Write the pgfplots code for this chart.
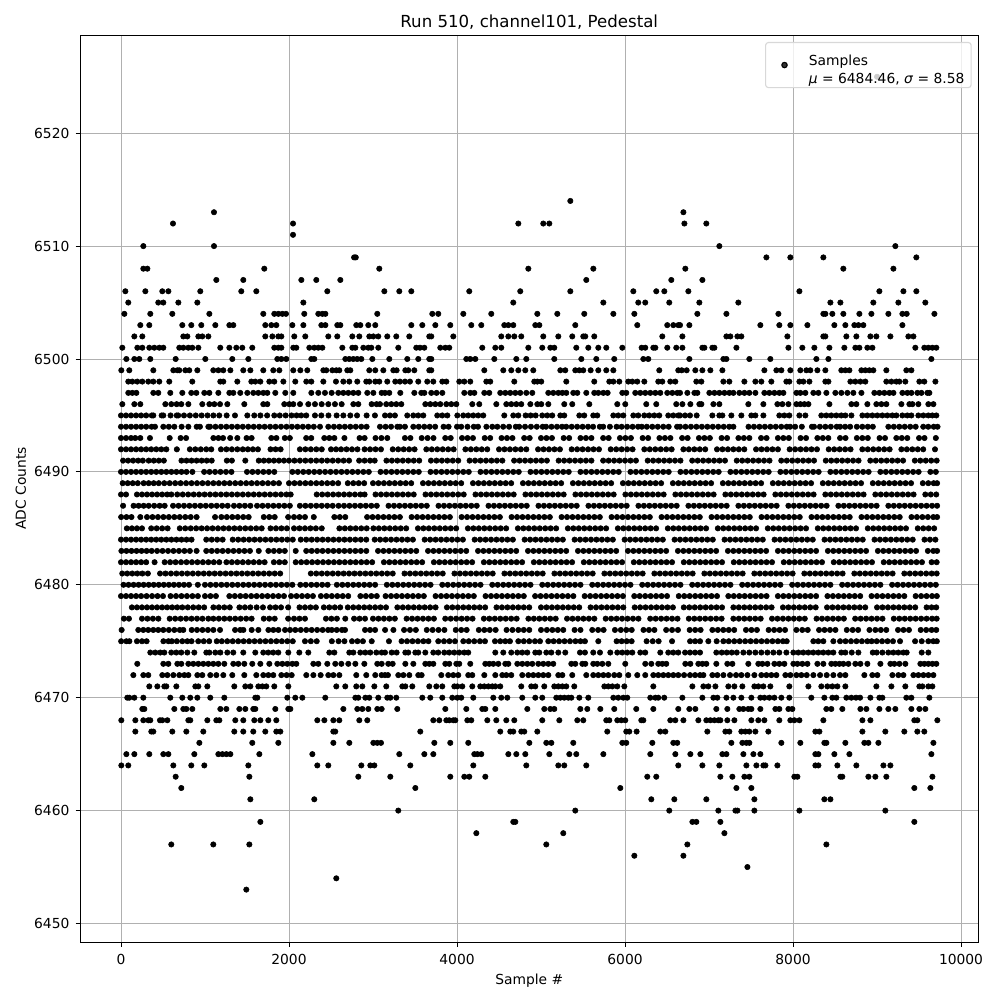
\documentclass[border=0pt]{standalone}
\usepackage{fontspec}
\setmainfont{DejaVu Sans}
\usepackage{pgfplots}
\pgfplotsset{compat=1.18}
\definecolor{gridc}{HTML}{B0B0B0}
\definecolor{legc}{HTML}{D8D8D8}
\begin{document}
\begin{tikzpicture}
\path[use as bounding box] (-0.805in,-0.58in) rectangle (9.195in,9.42in);
\begin{axis}[
 scale only axis,width=8.975in,height=9.07in,
 xmin=-482,xmax=10202,ymin=6448.36,ymax=6528.7,
 xtick={0,2000,4000,6000,8000,10000},
 ytick={6450,6460,6470,6480,6490,6500,6510,6520},
 scaled ticks=false,
 tick align=outside,tick pos=left,
 major tick length=3.5pt,
 tick style={black,line width=0.7pt},
 axis line style={black,line width=0.7pt},
 grid=major,grid style={gridc,line width=0.7pt},
 /pgf/number format/1000 sep={},
 /pgf/number format/assume math mode=true,
 tick label style={font=\fontsize{10}{12}\selectfont},
 label style={font=\fontsize{10}{12}\selectfont},
 xticklabel style={yshift=-1.7pt},
 yticklabel style={xshift=-1pt},
 title={Run 510, channel101, Pedestal},
 title style={font=\fontsize{12}{14}\selectfont,yshift=-5.7pt},
 xlabel={Sample \#},ylabel={ADC Counts},
 xlabel style={yshift=0pt},
 ylabel style={yshift=-1pt},
 legend style={at={(0.9930,0.9923)},anchor=north east,draw=legc,line width=0.8pt,rounded corners=2pt,fill=white,fill opacity=0.8,text opacity=1,font=\fontsize{10}{12.6}\selectfont,inner xsep=1mm,inner ysep=2.1mm},
 legend cell align=left,
 legend image code/.code={\draw[mark repeat=2,mark phase=2,#1,draw=none] plot coordinates {(0cm,0cm)(0.38cm,0cm)(0.93cm,0cm)};},
]
\addplot[draw=none,mark=*,mark size=1.95pt,mark options={draw=none,fill=black}] table[header=false] {
1492 6453
2563 6454
7457 6455
6111 6456
6695 6456
599 6457
1099 6457
1528 6457
5063 6457
6742 6457
8397 6457
4230 6458
5265 6458
7183 6458
1659 6459
4670 6459
4694 6459
6802 6459
6849 6459
7135 6459
9444 6459
3301 6460
5408 6460
6527 6460
7111 6460
7314 6460
7338 6460
7540 6460
8076 6460
9099 6460
1540 6461
2301 6461
6313 6461
6587 6461
6968 6461
7540 6461
8373 6461
8445 6461
718 6462
3504 6462
5944 6462
7326 6462
7504 6462
9444 6462
9635 6462
651 6463
1528 6463
2825 6463
3206 6463
3920 6463
4087 6463
4146 6463
4337 6463
6265 6463
6372 6463
7135 6463
7278 6463
7421 6463
7480 6463
8016 6463
8052 6463
8564 6463
8587 6463
8897 6463
8980 6463
9111 6463
9659 6463
4 6464
87 6464
623 6464
837 6464
992 6464
1516 6464
2337 6464
2468 6464
2861 6464
2968 6464
3016 6464
3444 6464
4194 6464
4825 6464
5206 6464
5277 6464
5539 6464
6634 6464
6921 6464
7123 6464
7445 6464
7564 6464
7647 6464
7671 6464
7814 6464
8266 6464
8302 6464
8528 6464
8754 6464
9076 6464
9159 6464
64 6465
159 6465
337 6465
504 6465
564 6465
873 6465
1159 6465
1207 6465
1254 6465
1302 6465
1647 6465
2278 6465
3313 6465
3611 6465
3718 6465
4206 6465
4242 6465
4289 6465
4611 6465
4706 6465
4813 6465
5099 6465
5337 6465
5420 6465
5742 6465
6301 6465
6599 6465
6778 6465
6897 6465
7159 6465
7207 6465
7409 6465
7528 6465
7611 6465
8266 6465
8302 6465
8492 6465
8671 6465
9647 6465
933 6466
1563 6466
1873 6466
2528 6466
2718 6466
3004 6466
3051 6466
3095 6466
3730 6466
3920 6466
4134 6466
4861 6466
5063 6466
5123 6466
5384 6466
5968 6466
6015 6466
6325 6466
6575 6466
6622 6466
7266 6466
7397 6466
7445 6466
7480 6466
7861 6466
8087 6466
8373 6466
8397 6466
8623 6466
8849 6466
8897 6466
9016 6466
9671 6466
171 6467
361 6467
385 6467
611 6467
778 6467
980 6467
1349 6467
1456 6467
1575 6467
1718 6467
1849 6467
1897 6467
2528 6467
2551 6467
3563 6467
4515 6467
4634 6467
4670 6467
4765 6467
4801 6467
4956 6467
5789 6467
6015 6467
6051 6467
6138 6467
6420 6467
6480 6467
6980 6467
7195 6467
7242 6467
7385 6467
7433 6467
7480 6467
7552 6467
7706 6467
8266 6467
8314 6467
8826 6467
9099 6467
9325 6467
9480 6467
9563 6467
4 6468
171 6468
266 6468
325 6468
349 6468
464 6468
492 6468
552 6468
802 6468
825 6468
1028 6468
1135 6468
1171 6468
1361 6468
1456 6468
1587 6468
1659 6468
1754 6468
1849 6468
2337 6468
2421 6468
2528 6468
2599 6468
2837 6468
2932 6468
3718 6468
3789 6468
3873 6468
3908 6468
3956 6468
3980 6468
4123 6468
4170 6468
4361 6468
4468 6468
4587 6468
4682 6468
5015 6468
5218 6468
5432 6468
5503 6468
5777 6468
5813 6468
5908 6468
5956 6468
6003 6468
6194 6468
6218 6468
6539 6468
6599 6468
6695 6468
6873 6468
6968 6468
7016 6468
7064 6468
7111 6468
7135 6468
7218 6468
7302 6468
7504 6468
7587 6468
7659 6468
7837 6468
7968 6468
8016 6468
8076 6468
8361 6468
8826 6468
8921 6468
9444 6468
9480 6468
9718 6468
254 6469
278 6469
635 6469
742 6469
778 6469
849 6469
1183 6469
1254 6469
1409 6469
1480 6469
1575 6469
1599 6469
1837 6469
1992 6469
2016 6469
2647 6469
2813 6469
2873 6469
2944 6469
3051 6469
3103 6469
3289 6469
3861 6469
4111 6469
4301 6469
4337 6469
4456 6469
4837 6469
5039 6469
5111 6469
5158 6469
5468 6469
5551 6469
5706 6469
5872 6469
6134 6469
6337 6469
6634 6469
6766 6469
6837 6469
7087 6469
7218 6469
7361 6469
7409 6469
7468 6469
7504 6469
7611 6469
7790 6469
7837 6469
7945 6469
7992 6469
8397 6469
8456 6469
8587 6469
8802 6469
8873 6469
9028 6469
9135 6469
9218 6469
9409 6469
9504 6469
9575 6469
75 6470
99 6470
159 6470
266 6470
587 6470
730 6470
825 6470
909 6470
1063 6470
1230 6470
1599 6470
1623 6470
1980 6470
2075 6470
2159 6470
2432 6470
2790 6470
2825 6470
2909 6470
2956 6470
3063 6470
3170 6470
3206 6470
3277 6470
3587 6470
3682 6470
3825 6470
3944 6470
4004 6470
4051 6470
4194 6470
4432 6470
4527 6470
4599 6470
4777 6470
4932 6470
5015 6470
5182 6470
5230 6470
5277 6470
5325 6470
5361 6470
5456 6470
5563 6470
5861 6470
5920 6470
5980 6470
6027 6470
6301 6470
6361 6470
6396 6470
6467 6470
6683 6470
6921 6470
7052 6470
7099 6470
7207 6470
7290 6470
7385 6470
7504 6470
7611 6470
7659 6470
7718 6470
7778 6470
7861 6470
7956 6470
8218 6470
8373 6470
8468 6470
8516 6470
8635 6470
8695 6470
8750 6470
8798 6470
8921 6470
9028 6470
9064 6470
9349 6470
9409 6470
9623 6470
337 6471
433 6471
516 6471
540 6471
659 6471
885 6471
921 6471
1028 6471
1349 6471
1480 6471
1540 6471
1635 6471
1683 6471
1730 6471
1825 6471
1992 6471
2563 6471
2670 6471
2801 6471
2873 6471
3016 6471
3158 6471
3349 6471
3385 6471
3468 6471
3670 6471
3754 6471
3825 6471
3968 6471
4004 6471
4063 6471
4182 6471
4277 6471
4325 6471
4373 6471
4420 6471
4456 6471
4515 6471
4765 6471
4884 6471
4932 6471
5039 6471
5158 6471
5206 6471
5254 6471
5301 6471
5396 6471
5754 6471
5801 6471
5849 6471
5908 6471
5992 6471
6337 6471
6802 6471
6933 6471
6992 6471
7076 6471
7230 6471
7302 6471
7397 6471
7540 6471
7587 6471
7647 6471
7730 6471
7956 6471
8183 6471
8337 6471
8409 6471
8468 6471
8528 6471
8623 6471
8992 6471
9171 6471
9337 6471
9504 6471
9540 6471
9611 6471
9659 6471
147 6472
266 6472
325 6472
492 6472
552 6472
623 6472
694 6472
754 6472
802 6472
909 6472
968 6472
1063 6472
1135 6472
1218 6472
1325 6472
1468 6472
1611 6472
1694 6472
1754 6472
1813 6472
1909 6472
1972 6472
2032 6472
2206 6472
2290 6472
2377 6472
2468 6472
2528 6472
2599 6472
2801 6472
2920 6472
3027 6472
3103 6472
3143 6472
3178 6472
3301 6472
3361 6472
3432 6472
3539 6472
3579 6472
3813 6472
3896 6472
3956 6472
4015 6472
4134 6472
4182 6472
4325 6472
4456 6472
4539 6472
4587 6472
4646 6472
4777 6472
4849 6472
4908 6472
4968 6472
5027 6472
5087 6472
5206 6472
5254 6472
5372 6472
5539 6472
5622 6472
5682 6472
5742 6472
5801 6472
5872 6472
5932 6472
6039 6472
6146 6472
6241 6472
6337 6472
6396 6472
6456 6472
6515 6472
6575 6472
6634 6472
6703 6472
6774 6472
6834 6472
6893 6472
6933 6472
7040 6472
7099 6472
7171 6472
7250 6472
7322 6472
7385 6472
7457 6472
7540 6472
7623 6472
7683 6472
7742 6472
7802 6472
7909 6472
7968 6472
8040 6472
8099 6472
8163 6472
8242 6472
8322 6472
8401 6472
8480 6472
8560 6472
8623 6472
8849 6472
8944 6472
9004 6472
9183 6472
9254 6472
9314 6472
9433 6472
9492 6472
9552 6472
9611 6472
9671 6472
194 6473
504 6473
564 6473
671 6473
718 6473
802 6473
861 6473
921 6473
980 6473
1040 6473
1099 6473
1159 6473
1230 6473
1337 6473
1397 6473
1468 6473
1563 6473
1659 6473
1766 6473
1861 6473
1921 6473
1980 6473
2040 6473
2087 6473
2290 6473
2349 6473
2456 6473
2551 6473
2623 6473
2706 6473
2790 6473
2897 6473
3051 6473
3103 6473
3182 6473
3234 6473
3385 6473
3480 6473
3623 6473
3670 6473
3718 6473
3861 6473
3908 6473
3992 6473
4027 6473
4158 6473
4337 6473
4384 6473
4432 6473
4492 6473
4575 6473
4611 6473
4718 6473
4777 6473
4837 6473
4896 6473
4968 6473
5027 6473
5087 6473
5146 6473
5361 6473
5408 6473
5492 6473
5527 6473
5622 6473
5670 6473
5730 6473
5801 6473
6003 6473
6241 6473
6313 6473
6396 6473
6444 6473
6491 6473
6718 6473
6778 6473
6873 6473
6921 6473
6968 6473
7087 6473
7218 6473
7278 6473
7468 6473
7587 6473
7635 6473
7695 6473
7778 6473
7837 6473
7897 6473
8004 6473
8052 6473
8111 6473
8171 6473
8290 6473
8361 6473
8456 6473
8504 6473
8552 6473
8599 6473
8659 6473
8742 6473
8802 6473
8885 6473
9040 6473
9159 6473
9206 6473
9266 6473
9337 6473
9516 6473
9563 6473
9611 6473
9659 6473
9706 6473
349 6474
409 6474
468 6474
516 6474
599 6474
659 6474
718 6474
790 6474
873 6474
1016 6474
1052 6474
1123 6474
1183 6474
1266 6474
1337 6474
1456 6474
1599 6474
1694 6474
1754 6474
1813 6474
1873 6474
1992 6474
2123 6474
2230 6474
2480 6474
2540 6474
2718 6474
2766 6474
2849 6474
2909 6474
2968 6474
3040 6474
3103 6474
3143 6474
3222 6474
3281 6474
3385 6474
3420 6474
3504 6474
3539 6474
3623 6474
3718 6474
3777 6474
3849 6474
3908 6474
3968 6474
4027 6474
4087 6474
4134 6474
4456 6474
4551 6474
4646 6474
4718 6474
4777 6474
4837 6474
4932 6474
4980 6474
5063 6474
5123 6474
5206 6474
5289 6474
5464 6474
5523 6474
5622 6474
5702 6474
5825 6474
5908 6474
5968 6474
6027 6474
6087 6474
6182 6474
6241 6474
6420 6474
6515 6474
6575 6474
6634 6474
6715 6474
6774 6474
6834 6474
6893 6474
7087 6474
7151 6474
7210 6474
7270 6474
7330 6474
7409 6474
7480 6474
7552 6474
7623 6474
7695 6474
7766 6474
7837 6474
7921 6474
8004 6474
8064 6474
8123 6474
8183 6474
8242 6474
8302 6474
8361 6474
8421 6474
8480 6474
8575 6474
8623 6474
8699 6474
8778 6474
8949 6474
8996 6474
9064 6474
9135 6474
9195 6474
9254 6474
9314 6474
9353 6474
9532 6474
9611 6474
2 6475
64 6475
100 6475
190 6475
250 6475
305 6475
505 6475
565 6475
605 6475
665 6475
730 6475
790 6475
840 6475
920 6475
985 6475
1050 6475
1140 6475
1200 6475
1265 6475
1330 6475
1395 6475
1460 6475
1525 6475
1590 6475
1655 6475
1720 6475
1785 6475
1850 6475
1915 6475
1980 6475
2045 6475
2190 6475
2260 6475
2330 6475
2510 6475
2590 6475
2660 6475
2750 6475
2815 6475
2880 6475
2985 6475
3190 6475
3340 6475
3405 6475
3470 6475
3535 6475
3600 6475
3660 6475
3777 6475
3845 6475
3910 6475
3976 6475
4075 6475
4140 6475
4205 6475
4273 6475
4333 6475
4452 6475
4515 6475
4575 6475
4630 6475
4730 6475
4795 6475
4860 6475
4928 6475
4988 6475
5087 6475
5150 6475
5215 6475
5280 6475
5345 6475
5410 6475
5470 6475
5523 6475
5682 6475
5900 6475
5960 6475
6020 6475
6079 6475
6257 6475
6330 6475
6400 6475
6560 6475
6775 6475
6835 6475
6893 6475
6992 6475
7091 6475
7171 6475
7235 6475
7300 6475
7365 6475
7430 6475
7495 6475
7560 6475
7625 6475
7690 6475
7755 6475
7820 6475
7880 6475
7925 6475
8242 6475
8300 6475
8361 6475
8480 6475
8560 6475
8625 6475
8690 6475
8755 6475
8820 6475
8885 6475
8936 6475
8996 6475
9060 6475
9125 6475
9190 6475
9274 6475
9453 6475
9532 6475
9611 6475
9670 6475
9712 6475
8 6476
206 6476
266 6476
325 6476
385 6476
444 6476
504 6476
570 6476
635 6476
700 6476
742 6476
842 6476
905 6476
970 6476
1035 6476
1100 6476
1179 6476
1358 6476
1420 6476
1457 6476
1556 6476
1635 6476
1755 6476
1814 6476
1874 6476
1953 6476
2013 6476
2075 6476
2140 6476
2205 6476
2270 6476
2335 6476
2400 6476
2465 6476
2509 6476
2568 6476
2630 6476
2667 6476
2905 6476
2965 6476
3025 6476
3144 6476
3243 6476
3370 6476
3440 6476
3510 6476
3640 6476
3710 6476
3780 6476
3850 6476
3985 6476
4050 6476
4115 6476
4260 6476
4325 6476
4390 6476
4460 6476
4590 6476
4660 6476
4730 6476
4795 6476
4860 6476
5000 6476
5070 6476
5135 6476
5200 6476
5265 6476
5400 6476
5470 6476
5610 6476
5680 6476
5745 6476
5880 6476
5950 6476
6015 6476
6080 6476
6220 6476
6285 6476
6350 6476
6490 6476
6560 6476
6630 6476
6770 6476
6835 6476
6900 6476
7040 6476
7105 6476
7170 6476
7235 6476
7300 6476
7440 6476
7505 6476
7570 6476
7710 6476
7775 6476
7840 6476
7905 6476
8040 6476
8110 6476
8175 6476
8310 6476
8375 6476
8440 6476
8505 6476
8640 6476
8710 6476
8775 6476
8910 6476
8980 6476
9045 6476
9110 6476
9250 6476
9315 6476
9380 6476
9520 6476
9585 6476
9650 6476
9705 6476
35 6477
95 6477
250 6477
315 6477
380 6477
445 6477
580 6477
645 6477
710 6477
775 6477
840 6477
905 6477
970 6477
1040 6477
1100 6477
1165 6477
1230 6477
1295 6477
1360 6477
1425 6477
1490 6477
1555 6477
1700 6477
1765 6477
1830 6477
1990 6477
2060 6477
2125 6477
2190 6477
2440 6477
2505 6477
2570 6477
2670 6477
2775 6477
2840 6477
2905 6477
3000 6477
3065 6477
3130 6477
3195 6477
3260 6477
3400 6477
3465 6477
3530 6477
3595 6477
3660 6477
3725 6477
3860 6477
3925 6477
3990 6477
4055 6477
4120 6477
4185 6477
4320 6477
4385 6477
4450 6477
4515 6477
4580 6477
4645 6477
4710 6477
4850 6477
4915 6477
4980 6477
5045 6477
5110 6477
5175 6477
5310 6477
5375 6477
5440 6477
5505 6477
5570 6477
5635 6477
5770 6477
5835 6477
5900 6477
5965 6477
6030 6477
6095 6477
6160 6477
6300 6477
6365 6477
6430 6477
6495 6477
6560 6477
6625 6477
6760 6477
6825 6477
6890 6477
6955 6477
7020 6477
7085 6477
7150 6477
7290 6477
7355 6477
7420 6477
7485 6477
7550 6477
7615 6477
7750 6477
7815 6477
7880 6477
7945 6477
8010 6477
8075 6477
8140 6477
8280 6477
8345 6477
8410 6477
8475 6477
8540 6477
8605 6477
8740 6477
8805 6477
8870 6477
8935 6477
9000 6477
9065 6477
9200 6477
9265 6477
9330 6477
9395 6477
9460 6477
9525 6477
9590 6477
9655 6477
9710 6477
130 6478
190 6478
250 6478
310 6478
370 6478
430 6478
490 6478
550 6478
610 6478
670 6478
730 6478
795 6478
860 6478
925 6478
990 6478
1100 6478
1165 6478
1230 6478
1295 6478
1410 6478
1475 6478
1540 6478
1615 6478
1690 6478
1775 6478
1840 6478
1905 6478
1990 6478
2125 6478
2190 6478
2255 6478
2320 6478
2415 6478
2480 6478
2545 6478
2610 6478
2700 6478
2765 6478
2830 6478
2895 6478
2960 6478
3025 6478
3090 6478
3155 6478
3290 6478
3355 6478
3420 6478
3485 6478
3550 6478
3615 6478
3680 6478
3745 6478
3880 6478
3945 6478
4010 6478
4075 6478
4140 6478
4205 6478
4270 6478
4335 6478
4470 6478
4535 6478
4600 6478
4665 6478
4730 6478
4795 6478
4860 6478
5000 6478
5065 6478
5130 6478
5195 6478
5260 6478
5325 6478
5390 6478
5455 6478
5590 6478
5655 6478
5720 6478
5785 6478
5850 6478
5915 6478
5980 6478
6115 6478
6180 6478
6245 6478
6310 6478
6375 6478
6440 6478
6505 6478
6570 6478
6700 6478
6765 6478
6830 6478
6895 6478
6960 6478
7025 6478
7090 6478
7155 6478
7290 6478
7355 6478
7420 6478
7485 6478
7550 6478
7615 6478
7680 6478
7745 6478
7880 6478
7945 6478
8010 6478
8075 6478
8140 6478
8205 6478
8270 6478
8405 6478
8470 6478
8535 6478
8600 6478
8665 6478
8730 6478
8795 6478
8860 6478
9000 6478
9065 6478
9130 6478
9195 6478
9260 6478
9325 6478
9390 6478
9455 6478
9590 6478
9650 6478
9705 6478
0 6479
60 6479
120 6479
180 6479
240 6479
305 6479
370 6479
435 6479
500 6479
590 6479
655 6479
720 6479
785 6479
850 6479
915 6479
1000 6479
1065 6479
1130 6479
1290 6479
1355 6479
1420 6479
1485 6479
1550 6479
1615 6479
1680 6479
1745 6479
1810 6479
1875 6479
1940 6479
2025 6479
2090 6479
2155 6479
2220 6479
2285 6479
2380 6479
2445 6479
2510 6479
2575 6479
2640 6479
2705 6479
2850 6479
2915 6479
2980 6479
3045 6479
3150 6479
3215 6479
3280 6479
3345 6479
3410 6479
3475 6479
3540 6479
3605 6479
3745 6479
3810 6479
3875 6479
3940 6479
4005 6479
4070 6479
4135 6479
4200 6479
4340 6479
4405 6479
4470 6479
4535 6479
4600 6479
4665 6479
4730 6479
4795 6479
4930 6479
4995 6479
5060 6479
5125 6479
5190 6479
5255 6479
5320 6479
5385 6479
5520 6479
5585 6479
5650 6479
5715 6479
5780 6479
5845 6479
5910 6479
5975 6479
6110 6479
6175 6479
6240 6479
6305 6479
6370 6479
6435 6479
6500 6479
6640 6479
6705 6479
6770 6479
6835 6479
6900 6479
6965 6479
7030 6479
7095 6479
7230 6479
7295 6479
7360 6479
7425 6479
7490 6479
7555 6479
7620 6479
7685 6479
7820 6479
7885 6479
7950 6479
8015 6479
8080 6479
8145 6479
8210 6479
8275 6479
8410 6479
8475 6479
8540 6479
8605 6479
8670 6479
8735 6479
8800 6479
8935 6479
9000 6479
9065 6479
9130 6479
9195 6479
9260 6479
9325 6479
9460 6479
9525 6479
9590 6479
9655 6479
9712 6479
30 6480
90 6480
150 6480
210 6480
270 6480
330 6480
390 6480
450 6480
510 6480
570 6480
630 6480
690 6480
750 6480
810 6480
915 6480
1000 6480
1065 6480
1130 6480
1195 6480
1260 6480
1325 6480
1390 6480
1455 6480
1520 6480
1585 6480
1650 6480
1715 6480
1780 6480
1845 6480
1910 6480
1975 6480
2040 6480
2135 6480
2200 6480
2265 6480
2330 6480
2395 6480
2460 6480
2570 6480
2635 6480
2700 6480
2765 6480
2830 6480
2895 6480
2960 6480
3025 6480
3165 6480
3230 6480
3295 6480
3360 6480
3425 6480
3490 6480
3555 6480
3620 6480
3685 6480
3825 6480
3890 6480
3955 6480
4020 6480
4085 6480
4150 6480
4215 6480
4280 6480
4420 6480
4485 6480
4550 6480
4615 6480
4680 6480
4745 6480
4810 6480
4875 6480
5015 6480
5080 6480
5145 6480
5210 6480
5275 6480
5340 6480
5405 6480
5470 6480
5610 6480
5675 6480
5740 6480
5805 6480
5870 6480
5935 6480
6000 6480
6065 6480
6205 6480
6270 6480
6335 6480
6400 6480
6465 6480
6530 6480
6595 6480
6660 6480
6800 6480
6865 6480
6930 6480
6995 6480
7060 6480
7125 6480
7190 6480
7255 6480
7395 6480
7460 6480
7525 6480
7590 6480
7655 6480
7720 6480
7785 6480
7850 6480
7990 6480
8055 6480
8120 6480
8185 6480
8250 6480
8315 6480
8380 6480
8445 6480
8585 6480
8650 6480
8715 6480
8780 6480
8845 6480
8910 6480
8975 6480
9040 6480
9180 6480
9245 6480
9310 6480
9375 6480
9440 6480
9505 6480
9570 6480
9635 6480
9700 6480
15 6481
75 6481
135 6481
195 6481
255 6481
320 6481
465 6481
530 6481
595 6481
660 6481
725 6481
790 6481
855 6481
920 6481
985 6481
1050 6481
1115 6481
1180 6481
1245 6481
1310 6481
1375 6481
1440 6481
1505 6481
1570 6481
1635 6481
1700 6481
1765 6481
1830 6481
1895 6481
2260 6481
2325 6481
2390 6481
2455 6481
2520 6481
2585 6481
2650 6481
2715 6481
2780 6481
2845 6481
2910 6481
2975 6481
3040 6481
3105 6481
3170 6481
3235 6481
3375 6481
3440 6481
3505 6481
3570 6481
3635 6481
3700 6481
3765 6481
3830 6481
3970 6481
4035 6481
4100 6481
4165 6481
4230 6481
4295 6481
4360 6481
4425 6481
4565 6481
4630 6481
4695 6481
4760 6481
4825 6481
4890 6481
4955 6481
5020 6481
5160 6481
5225 6481
5290 6481
5355 6481
5420 6481
5485 6481
5550 6481
5615 6481
5755 6481
5820 6481
5885 6481
5950 6481
6015 6481
6080 6481
6145 6481
6210 6481
6350 6481
6415 6481
6480 6481
6545 6481
6610 6481
6675 6481
6740 6481
6805 6481
6945 6481
7010 6481
7075 6481
7140 6481
7205 6481
7270 6481
7335 6481
7400 6481
7540 6481
7605 6481
7670 6481
7735 6481
7800 6481
7865 6481
7930 6481
7995 6481
8135 6481
8200 6481
8265 6481
8330 6481
8395 6481
8460 6481
8525 6481
8590 6481
8730 6481
8795 6481
8860 6481
8925 6481
8990 6481
9055 6481
9120 6481
9185 6481
9325 6481
9390 6481
9455 6481
9520 6481
9585 6481
9650 6481
9710 6481
0 6482
60 6482
120 6482
180 6482
240 6482
300 6482
400 6482
520 6482
585 6482
650 6482
715 6482
780 6482
845 6482
910 6482
975 6482
1040 6482
1105 6482
1170 6482
1255 6482
1320 6482
1385 6482
1450 6482
1515 6482
1580 6482
1645 6482
1710 6482
1820 6482
1885 6482
1950 6482
2080 6482
2145 6482
2210 6482
2275 6482
2340 6482
2405 6482
2470 6482
2535 6482
2600 6482
2665 6482
2730 6482
2795 6482
2860 6482
2925 6482
2990 6482
3130 6482
3195 6482
3260 6482
3325 6482
3390 6482
3455 6482
3520 6482
3585 6482
3725 6482
3790 6482
3855 6482
3920 6482
3985 6482
4050 6482
4115 6482
4180 6482
4320 6482
4385 6482
4450 6482
4515 6482
4580 6482
4645 6482
4710 6482
4775 6482
4915 6482
4980 6482
5045 6482
5110 6482
5175 6482
5240 6482
5305 6482
5370 6482
5510 6482
5575 6482
5640 6482
5705 6482
5770 6482
5835 6482
5900 6482
5965 6482
6105 6482
6170 6482
6235 6482
6300 6482
6365 6482
6430 6482
6495 6482
6560 6482
6700 6482
6765 6482
6830 6482
6895 6482
6960 6482
7025 6482
7090 6482
7155 6482
7295 6482
7360 6482
7425 6482
7490 6482
7555 6482
7620 6482
7685 6482
7750 6482
7890 6482
7955 6482
8020 6482
8085 6482
8150 6482
8215 6482
8280 6482
8345 6482
8485 6482
8550 6482
8615 6482
8680 6482
8745 6482
8810 6482
8875 6482
8940 6482
9080 6482
9145 6482
9210 6482
9275 6482
9340 6482
9405 6482
9470 6482
9535 6482
9650 6482
9710 6482
5 6483
65 6483
125 6483
185 6483
245 6483
305 6483
365 6483
430 6483
495 6483
560 6483
625 6483
690 6483
755 6483
820 6483
900 6483
1015 6483
1080 6483
1145 6483
1210 6483
1275 6483
1340 6483
1405 6483
1470 6483
1535 6483
1640 6483
1755 6483
1820 6483
1885 6483
1950 6483
2080 6483
2205 6483
2270 6483
2335 6483
2400 6483
2465 6483
2530 6483
2595 6483
2660 6483
2725 6483
2790 6483
2855 6483
2920 6483
3060 6483
3125 6483
3190 6483
3255 6483
3320 6483
3385 6483
3450 6483
3515 6483
3655 6483
3720 6483
3785 6483
3850 6483
3915 6483
3980 6483
4045 6483
4110 6483
4250 6483
4315 6483
4380 6483
4445 6483
4510 6483
4575 6483
4640 6483
4705 6483
4845 6483
4910 6483
4975 6483
5040 6483
5105 6483
5170 6483
5235 6483
5300 6483
5440 6483
5505 6483
5570 6483
5635 6483
5700 6483
5765 6483
5830 6483
5895 6483
6035 6483
6100 6483
6165 6483
6230 6483
6295 6483
6360 6483
6425 6483
6490 6483
6630 6483
6695 6483
6760 6483
6825 6483
6890 6483
6955 6483
7020 6483
7085 6483
7225 6483
7290 6483
7355 6483
7420 6483
7485 6483
7550 6483
7615 6483
7680 6483
7820 6483
7885 6483
7950 6483
8015 6483
8080 6483
8145 6483
8210 6483
8275 6483
8415 6483
8480 6483
8545 6483
8610 6483
8675 6483
8740 6483
8805 6483
8870 6483
9010 6483
9075 6483
9140 6483
9205 6483
9270 6483
9335 6483
9400 6483
9465 6483
9605 6483
9670 6483
9715 6483
0 6484
60 6484
120 6484
180 6484
240 6484
300 6484
360 6484
420 6484
480 6484
540 6484
600 6484
660 6484
720 6484
780 6484
840 6484
1015 6484
1080 6484
1145 6484
1210 6484
1330 6484
1395 6484
1460 6484
1525 6484
1590 6484
1655 6484
1720 6484
1785 6484
1850 6484
1915 6484
1980 6484
2045 6484
2140 6484
2205 6484
2270 6484
2335 6484
2400 6484
2465 6484
2530 6484
2595 6484
2660 6484
2725 6484
2790 6484
2855 6484
2920 6484
3020 6484
3085 6484
3150 6484
3215 6484
3280 6484
3345 6484
3410 6484
3475 6484
3615 6484
3680 6484
3745 6484
3810 6484
3875 6484
3940 6484
4005 6484
4070 6484
4210 6484
4275 6484
4340 6484
4405 6484
4470 6484
4535 6484
4600 6484
4665 6484
4805 6484
4870 6484
4935 6484
5000 6484
5065 6484
5130 6484
5195 6484
5260 6484
5400 6484
5465 6484
5530 6484
5595 6484
5660 6484
5725 6484
5790 6484
5855 6484
5995 6484
6060 6484
6125 6484
6190 6484
6255 6484
6320 6484
6385 6484
6450 6484
6590 6484
6655 6484
6720 6484
6785 6484
6850 6484
6915 6484
6980 6484
7045 6484
7185 6484
7250 6484
7315 6484
7380 6484
7445 6484
7510 6484
7575 6484
7640 6484
7780 6484
7845 6484
7910 6484
7975 6484
8040 6484
8105 6484
8170 6484
8235 6484
8375 6484
8440 6484
8505 6484
8570 6484
8635 6484
8700 6484
8765 6484
8830 6484
8970 6484
9035 6484
9100 6484
9165 6484
9230 6484
9295 6484
9360 6484
9425 6484
9565 6484
9630 6484
9695 6484
70 6485
130 6485
190 6485
250 6485
360 6485
425 6485
490 6485
555 6485
700 6485
765 6485
830 6485
895 6485
960 6485
1025 6485
1090 6485
1155 6485
1220 6485
1285 6485
1350 6485
1415 6485
1480 6485
1545 6485
1610 6485
1675 6485
1780 6485
1845 6485
1910 6485
1975 6485
2060 6485
2125 6485
2190 6485
2255 6485
2320 6485
2390 6485
2600 6485
2665 6485
2730 6485
2795 6485
2860 6485
2925 6485
3005 6485
3070 6485
3135 6485
3200 6485
3265 6485
3330 6485
3395 6485
3535 6485
3600 6485
3665 6485
3730 6485
3795 6485
3860 6485
3925 6485
3990 6485
4130 6485
4195 6485
4260 6485
4325 6485
4390 6485
4455 6485
4520 6485
4585 6485
4725 6485
4790 6485
4855 6485
4920 6485
4985 6485
5050 6485
5115 6485
5180 6485
5320 6485
5385 6485
5450 6485
5515 6485
5580 6485
5645 6485
5710 6485
5775 6485
5915 6485
5980 6485
6045 6485
6110 6485
6175 6485
6240 6485
6305 6485
6370 6485
6510 6485
6575 6485
6640 6485
6705 6485
6770 6485
6835 6485
6900 6485
6965 6485
7105 6485
7170 6485
7235 6485
7300 6485
7365 6485
7430 6485
7495 6485
7560 6485
7700 6485
7765 6485
7830 6485
7895 6485
7960 6485
8025 6485
8090 6485
8155 6485
8295 6485
8360 6485
8425 6485
8490 6485
8555 6485
8620 6485
8685 6485
8750 6485
8890 6485
8955 6485
9020 6485
9085 6485
9150 6485
9215 6485
9280 6485
9345 6485
9485 6485
9550 6485
9615 6485
9680 6485
2 6486
65 6486
125 6486
230 6486
310 6486
375 6486
440 6486
505 6486
570 6486
635 6486
700 6486
765 6486
830 6486
900 6486
1120 6486
1195 6486
1260 6486
1325 6486
1390 6486
1455 6486
1520 6486
1700 6486
1765 6486
1830 6486
1990 6486
2060 6486
2125 6486
2190 6486
2295 6486
2540 6486
2605 6486
2670 6486
2930 6486
2995 6486
3060 6486
3125 6486
3190 6486
3255 6486
3320 6486
3460 6486
3525 6486
3590 6486
3655 6486
3720 6486
3785 6486
3850 6486
3915 6486
4055 6486
4120 6486
4185 6486
4250 6486
4315 6486
4380 6486
4445 6486
4510 6486
4650 6486
4715 6486
4780 6486
4845 6486
4910 6486
4975 6486
5040 6486
5105 6486
5245 6486
5310 6486
5375 6486
5440 6486
5505 6486
5570 6486
5635 6486
5700 6486
5840 6486
5905 6486
5970 6486
6035 6486
6100 6486
6165 6486
6230 6486
6295 6486
6435 6486
6500 6486
6565 6486
6630 6486
6695 6486
6760 6486
6825 6486
6890 6486
7030 6486
7095 6486
7160 6486
7225 6486
7290 6486
7355 6486
7420 6486
7485 6486
7625 6486
7690 6486
7755 6486
7820 6486
7885 6486
7950 6486
8015 6486
8080 6486
8220 6486
8285 6486
8350 6486
8415 6486
8480 6486
8545 6486
8610 6486
8675 6486
8815 6486
8880 6486
8945 6486
9010 6486
9075 6486
9140 6486
9205 6486
9270 6486
9410 6486
9475 6486
9540 6486
9605 6486
9670 6486
9715 6486
25 6487
150 6487
210 6487
270 6487
330 6487
395 6487
460 6487
520 6487
620 6487
685 6487
750 6487
815 6487
880 6487
945 6487
1010 6487
1075 6487
1140 6487
1205 6487
1270 6487
1345 6487
1410 6487
1475 6487
1540 6487
1620 6487
1685 6487
1750 6487
1815 6487
1880 6487
1945 6487
2010 6487
2130 6487
2195 6487
2260 6487
2325 6487
2390 6487
2455 6487
2520 6487
2590 6487
2655 6487
2720 6487
2785 6487
2850 6487
2915 6487
2980 6487
3045 6487
3185 6487
3250 6487
3315 6487
3380 6487
3445 6487
3510 6487
3575 6487
3640 6487
3780 6487
3845 6487
3910 6487
3975 6487
4040 6487
4105 6487
4170 6487
4235 6487
4375 6487
4440 6487
4505 6487
4570 6487
4635 6487
4700 6487
4765 6487
4830 6487
4970 6487
5035 6487
5100 6487
5165 6487
5230 6487
5295 6487
5360 6487
5425 6487
5565 6487
5630 6487
5695 6487
5760 6487
5825 6487
5890 6487
5955 6487
6020 6487
6160 6487
6225 6487
6290 6487
6355 6487
6420 6487
6485 6487
6550 6487
6615 6487
6755 6487
6820 6487
6885 6487
6950 6487
7015 6487
7080 6487
7145 6487
7210 6487
7350 6487
7415 6487
7480 6487
7545 6487
7610 6487
7675 6487
7740 6487
7805 6487
7945 6487
8010 6487
8075 6487
8140 6487
8205 6487
8270 6487
8335 6487
8400 6487
8540 6487
8605 6487
8670 6487
8735 6487
8800 6487
8865 6487
8930 6487
8995 6487
9135 6487
9200 6487
9265 6487
9330 6487
9395 6487
9460 6487
9525 6487
9590 6487
9655 6487
9715 6487
0 6488
60 6488
190 6488
250 6488
310 6488
370 6488
430 6488
490 6488
550 6488
600 6488
670 6488
735 6488
800 6488
865 6488
930 6488
995 6488
1060 6488
1125 6488
1190 6488
1255 6488
1320 6488
1385 6488
1450 6488
1515 6488
1580 6488
1645 6488
1710 6488
1775 6488
1840 6488
1905 6488
1970 6488
2020 6488
2330 6488
2395 6488
2460 6488
2525 6488
2590 6488
2655 6488
2720 6488
2785 6488
2850 6488
2900 6488
3030 6488
3095 6488
3160 6488
3225 6488
3290 6488
3355 6488
3420 6488
3485 6488
3625 6488
3690 6488
3755 6488
3820 6488
3885 6488
3950 6488
4015 6488
4080 6488
4220 6488
4285 6488
4350 6488
4415 6488
4480 6488
4545 6488
4610 6488
4675 6488
4815 6488
4880 6488
4945 6488
5010 6488
5075 6488
5140 6488
5205 6488
5270 6488
5410 6488
5475 6488
5540 6488
5605 6488
5670 6488
5735 6488
5800 6488
5865 6488
6005 6488
6070 6488
6135 6488
6200 6488
6265 6488
6330 6488
6395 6488
6460 6488
6600 6488
6665 6488
6730 6488
6795 6488
6860 6488
6925 6488
6990 6488
7055 6488
7195 6488
7260 6488
7325 6488
7390 6488
7455 6488
7520 6488
7585 6488
7650 6488
7790 6488
7855 6488
7920 6488
7985 6488
8050 6488
8115 6488
8180 6488
8245 6488
8385 6488
8450 6488
8515 6488
8580 6488
8645 6488
8710 6488
8775 6488
8840 6488
8980 6488
9045 6488
9110 6488
9175 6488
9240 6488
9305 6488
9370 6488
9435 6488
9575 6488
9640 6488
9705 6488
20 6489
80 6489
140 6489
200 6489
270 6489
330 6489
390 6489
450 6489
515 6489
580 6489
645 6489
710 6489
775 6489
840 6489
905 6489
970 6489
1035 6489
1100 6489
1165 6489
1230 6489
1295 6489
1360 6489
1425 6489
1490 6489
1555 6489
1620 6489
1685 6489
1750 6489
1815 6489
1880 6489
2000 6489
2065 6489
2130 6489
2195 6489
2260 6489
2325 6489
2390 6489
2455 6489
2520 6489
2585 6489
2700 6489
2765 6489
2830 6489
2895 6489
3000 6489
3065 6489
3130 6489
3195 6489
3260 6489
3325 6489
3390 6489
3455 6489
3595 6489
3660 6489
3725 6489
3790 6489
3855 6489
3920 6489
3985 6489
4050 6489
4190 6489
4255 6489
4320 6489
4385 6489
4450 6489
4515 6489
4580 6489
4645 6489
4785 6489
4850 6489
4915 6489
4980 6489
5045 6489
5110 6489
5175 6489
5240 6489
5380 6489
5445 6489
5510 6489
5575 6489
5640 6489
5705 6489
5770 6489
5835 6489
5975 6489
6040 6489
6105 6489
6170 6489
6235 6489
6300 6489
6365 6489
6430 6489
6570 6489
6635 6489
6700 6489
6765 6489
6830 6489
6895 6489
6960 6489
7025 6489
7165 6489
7230 6489
7295 6489
7360 6489
7425 6489
7490 6489
7555 6489
7620 6489
7760 6489
7825 6489
7890 6489
7955 6489
8020 6489
8085 6489
8150 6489
8215 6489
8355 6489
8420 6489
8485 6489
8550 6489
8615 6489
8680 6489
8745 6489
8810 6489
8950 6489
9015 6489
9080 6489
9145 6489
9210 6489
9275 6489
9340 6489
9405 6489
9545 6489
9610 6489
9675 6489
9715 6489
0 6490
60 6490
120 6490
180 6490
240 6490
300 6490
360 6490
420 6490
480 6490
540 6490
600 6490
660 6490
720 6490
780 6490
850 6490
990 6490
1055 6490
1120 6490
1185 6490
1250 6490
1315 6490
1500 6490
1565 6490
1630 6490
1695 6490
1760 6490
1825 6490
2040 6490
2105 6490
2170 6490
2235 6490
2300 6490
2365 6490
2430 6490
2495 6490
2560 6490
2625 6490
2690 6490
2755 6490
2820 6490
2885 6490
2950 6490
3090 6490
3155 6490
3220 6490
3285 6490
3350 6490
3415 6490
3480 6490
3545 6490
3685 6490
3750 6490
3815 6490
3880 6490
3945 6490
4010 6490
4075 6490
4140 6490
4280 6490
4345 6490
4410 6490
4475 6490
4540 6490
4605 6490
4670 6490
4735 6490
4875 6490
4940 6490
5005 6490
5070 6490
5135 6490
5200 6490
5265 6490
5330 6490
5470 6490
5535 6490
5600 6490
5665 6490
5730 6490
5795 6490
5860 6490
5925 6490
6065 6490
6130 6490
6195 6490
6260 6490
6325 6490
6390 6490
6455 6490
6520 6490
6660 6490
6725 6490
6790 6490
6855 6490
6920 6490
6985 6490
7050 6490
7115 6490
7255 6490
7320 6490
7385 6490
7450 6490
7515 6490
7580 6490
7645 6490
7710 6490
7850 6490
7915 6490
7980 6490
8045 6490
8110 6490
8175 6490
8240 6490
8305 6490
8445 6490
8510 6490
8575 6490
8640 6490
8705 6490
8770 6490
8835 6490
8900 6490
9040 6490
9105 6490
9170 6490
9235 6490
9300 6490
9365 6490
9430 6490
9495 6490
9635 6490
9700 6490
25 6491
85 6491
145 6491
205 6491
260 6491
330 6491
390 6491
450 6491
510 6491
720 6491
780 6491
840 6491
900 6491
960 6491
1020 6491
1080 6491
1260 6491
1320 6491
1480 6491
1640 6491
1700 6491
1760 6491
1820 6491
1880 6491
1940 6491
2000 6491
2065 6491
2130 6491
2195 6491
2260 6491
2325 6491
2390 6491
2455 6491
2520 6491
2585 6491
2650 6491
2715 6491
2835 6491
2900 6491
2965 6491
3020 6491
3160 6491
3225 6491
3290 6491
3355 6491
3420 6491
3485 6491
3550 6491
3690 6491
3755 6491
3820 6491
3885 6491
3950 6491
4015 6491
4150 6491
4215 6491
4280 6491
4345 6491
4410 6491
4475 6491
4540 6491
4680 6491
4745 6491
4810 6491
4875 6491
4940 6491
5005 6491
5070 6491
5210 6491
5275 6491
5340 6491
5405 6491
5470 6491
5535 6491
5600 6491
5740 6491
5805 6491
5870 6491
5935 6491
6000 6491
6065 6491
6130 6491
6270 6491
6335 6491
6400 6491
6465 6491
6530 6491
6595 6491
6660 6491
6800 6491
6865 6491
6930 6491
6995 6491
7060 6491
7125 6491
7190 6491
7330 6491
7395 6491
7460 6491
7525 6491
7590 6491
7655 6491
7720 6491
7860 6491
7925 6491
7990 6491
8055 6491
8120 6491
8185 6491
8250 6491
8390 6491
8455 6491
8520 6491
8585 6491
8650 6491
8715 6491
8780 6491
8920 6491
8985 6491
9050 6491
9115 6491
9180 6491
9245 6491
9310 6491
9450 6491
9515 6491
9580 6491
9645 6491
9710 6491
0 6492
60 6492
120 6492
180 6492
240 6492
300 6492
360 6492
420 6492
480 6492
540 6492
665 6492
820 6492
885 6492
950 6492
1015 6492
1075 6492
1190 6492
1255 6492
1320 6492
1385 6492
1450 6492
1510 6492
1570 6492
1630 6492
1780 6492
1840 6492
1900 6492
2130 6492
2195 6492
2260 6492
2325 6492
2390 6492
2500 6492
2560 6492
2620 6492
2685 6492
2750 6492
2815 6492
2900 6492
2965 6492
3030 6492
3095 6492
3235 6492
3300 6492
3365 6492
3430 6492
3495 6492
3635 6492
3700 6492
3765 6492
3830 6492
3895 6492
3960 6492
4100 6492
4165 6492
4230 6492
4295 6492
4360 6492
4500 6492
4565 6492
4630 6492
4695 6492
4760 6492
4825 6492
4965 6492
5030 6492
5095 6492
5160 6492
5225 6492
5365 6492
5430 6492
5495 6492
5560 6492
5625 6492
5690 6492
5830 6492
5895 6492
5960 6492
6025 6492
6090 6492
6230 6492
6295 6492
6360 6492
6425 6492
6490 6492
6555 6492
6695 6492
6760 6492
6825 6492
6890 6492
6955 6492
7095 6492
7160 6492
7225 6492
7290 6492
7355 6492
7420 6492
7560 6492
7625 6492
7690 6492
7755 6492
7820 6492
7960 6492
8025 6492
8090 6492
8155 6492
8220 6492
8285 6492
8425 6492
8490 6492
8555 6492
8620 6492
8685 6492
8825 6492
8890 6492
8955 6492
9020 6492
9085 6492
9150 6492
9290 6492
9355 6492
9420 6492
9485 6492
9550 6492
9690 6492
0 6493
60 6493
120 6493
170 6493
230 6493
345 6493
580 6493
710 6493
775 6493
1100 6493
1160 6493
1215 6493
1300 6493
1385 6493
1495 6493
1555 6493
1790 6493
1850 6493
1950 6493
2010 6493
2205 6493
2265 6493
2420 6493
2480 6493
2540 6493
2660 6493
2840 6493
2900 6493
3030 6493
3100 6493
3170 6493
3380 6493
3445 6493
3580 6493
3650 6493
3720 6493
3860 6493
3925 6493
4060 6493
4125 6493
4190 6493
4330 6493
4395 6493
4530 6493
4595 6493
4660 6493
4800 6493
4865 6493
5000 6493
5065 6493
5130 6493
5270 6493
5335 6493
5470 6493
5535 6493
5600 6493
5740 6493
5805 6493
5940 6493
6005 6493
6070 6493
6210 6493
6275 6493
6410 6493
6475 6493
6540 6493
6680 6493
6745 6493
6880 6493
6945 6493
7010 6493
7150 6493
7215 6493
7350 6493
7415 6493
7480 6493
7620 6493
7685 6493
7820 6493
7885 6493
7950 6493
8090 6493
8155 6493
8290 6493
8355 6493
8420 6493
8560 6493
8625 6493
8760 6493
8825 6493
8890 6493
9030 6493
9095 6493
9230 6493
9295 6493
9360 6493
9500 6493
9565 6493
9700 6493
0 6494
60 6494
120 6494
180 6494
240 6494
300 6494
365 6494
405 6494
504 6494
570 6494
635 6494
722 6494
802 6494
901 6494
940 6494
1040 6494
1060 6494
1125 6494
1190 6494
1255 6494
1320 6494
1385 6494
1450 6494
1515 6494
1580 6494
1645 6494
1710 6494
1775 6494
1840 6494
1905 6494
1970 6494
2035 6494
2100 6494
2165 6494
2230 6494
2295 6494
2369 6494
2468 6494
2535 6494
2600 6494
2665 6494
2730 6494
2795 6494
2860 6494
2924 6494
3083 6494
3150 6494
3215 6494
3290 6494
3320 6494
3380 6494
3480 6494
3545 6494
3610 6494
3675 6494
3740 6494
3840 6494
3900 6494
4000 6494
4050 6494
4125 6494
4200 6494
4250 6494
4350 6494
4420 6494
4480 6494
4550 6494
4620 6494
4700 6494
4740 6494
4810 6494
4880 6494
4950 6494
5020 6494
5060 6494
5125 6494
5190 6494
5250 6494
5300 6494
5365 6494
5430 6494
5495 6494
5560 6494
5620 6494
5700 6494
5740 6494
5820 6494
5900 6494
5960 6494
6025 6494
6090 6494
6155 6494
6200 6494
6260 6494
6325 6494
6390 6494
6455 6494
6520 6494
6620 6494
6655 6494
6720 6494
6785 6494
6850 6494
6915 6494
6980 6494
7045 6494
7110 6494
7175 6494
7240 6494
7290 6494
7470 6494
7535 6494
7600 6494
7665 6494
7730 6494
7795 6494
7860 6494
7925 6494
7965 6494
8025 6494
8105 6494
8225 6494
8250 6494
8320 6494
8385 6494
8450 6494
8520 6494
8560 6494
8620 6494
8680 6494
8760 6494
8825 6494
8890 6494
8950 6494
9135 6494
9200 6494
9265 6494
9330 6494
9395 6494
9460 6494
9550 6494
9610 6494
9675 6494
9720 6494
0 6495
60 6495
120 6495
180 6495
240 6495
300 6495
366 6495
385 6495
484 6495
504 6495
590 6495
663 6495
682 6495
750 6495
820 6495
890 6495
960 6495
1030 6495
1100 6495
1170 6495
1258 6495
1357 6495
1504 6495
1587 6495
1660 6495
1740 6495
1825 6495
1890 6495
1960 6495
2030 6495
2090 6495
2146 6495
2206 6495
2309 6495
2385 6495
2470 6495
2567 6495
2647 6495
2730 6495
2810 6495
2924 6495
3023 6495
3143 6495
3202 6495
3261 6495
3408 6495
3480 6495
3539 6495
3599 6495
3765 6495
3825 6495
3885 6495
4004 6495
4075 6495
4134 6495
4194 6495
4253 6495
4313 6495
4563 6495
4670 6495
4730 6495
4817 6495
4876 6495
4936 6495
5015 6495
5075 6495
5134 6495
5230 6495
5277 6495
5456 6495
5515 6495
5622 6495
5670 6495
5861 6495
5920 6495
5980 6495
6099 6495
6158 6495
6230 6495
6289 6495
6349 6495
6408 6495
6515 6495
6575 6495
6634 6495
6655 6495
6715 6495
6774 6495
6853 6495
7040 6495
7123 6495
7159 6495
7266 6495
7385 6495
7504 6495
7552 6495
7647 6495
7837 6495
7897 6495
7956 6495
8076 6495
8147 6495
8337 6495
8397 6495
8456 6495
8516 6495
8575 6495
8623 6495
8695 6495
8826 6495
8885 6495
8945 6495
9004 6495
9064 6495
9123 6495
9183 6495
9230 6495
9302 6495
9361 6495
9409 6495
9492 6495
9552 6495
9611 6495
9659 6495
9706 6495
16 6496
159 6496
230 6496
528 6496
599 6496
663 6496
718 6496
802 6496
968 6496
1052 6496
1111 6496
1179 6496
1266 6496
1468 6496
1694 6496
1742 6496
1944 6496
2004 6496
2051 6496
2131 6496
2230 6496
2309 6496
2389 6496
2468 6496
2547 6496
2627 6496
2766 6496
2825 6496
2984 6496
3043 6496
3083 6496
3158 6496
3218 6496
3277 6496
3337 6496
3623 6496
3682 6496
3742 6496
3801 6496
3873 6496
3932 6496
3992 6496
4182 6496
4265 6496
4468 6496
4587 6496
4646 6496
4706 6496
4765 6496
4873 6496
4956 6496
5003 6496
5087 6496
5277 6496
5372 6496
5575 6496
5908 6496
6003 6496
6253 6496
6372 6496
6610 6496
6683 6496
6778 6496
6885 6496
6909 6496
7052 6496
7123 6496
7468 6496
7647 6496
7814 6496
7873 6496
7945 6496
8040 6496
8087 6496
8135 6496
8183 6496
8433 6496
8695 6496
8754 6496
8885 6496
8992 6496
9052 6496
9111 6496
9290 6496
9385 6496
9421 6496
9492 6496
9611 6496
9671 6496
87 6497
135 6497
183 6497
385 6497
444 6497
587 6497
730 6497
837 6497
897 6497
992 6497
1052 6497
1159 6497
1290 6497
1337 6497
1420 6497
1504 6497
1575 6497
1635 6497
1694 6497
1742 6497
1837 6497
1956 6497
2051 6497
2266 6497
2349 6497
2428 6497
2508 6497
2587 6497
2647 6497
2706 6497
2766 6497
2825 6497
2932 6497
3004 6497
3103 6497
3143 6497
3194 6497
3325 6497
3492 6497
3575 6497
3611 6497
3694 6497
3757 6497
3825 6497
4087 6497
4158 6497
4206 6497
4325 6497
4384 6497
4515 6497
4575 6497
4634 6497
4694 6497
4753 6497
4825 6497
4896 6497
5087 6497
5146 6497
5206 6497
5254 6497
5301 6497
5384 6497
5432 6497
5539 6497
5634 6497
5682 6497
5742 6497
5793 6497
5968 6497
6015 6497
6122 6497
6182 6497
6241 6497
6301 6497
6361 6497
6420 6497
6503 6497
6563 6497
6622 6497
6655 6497
6742 6497
6826 6497
6861 6497
7004 6497
7064 6497
7123 6497
7183 6497
7242 6497
7290 6497
7361 6497
7421 6497
7480 6497
7552 6497
7659 6497
7718 6497
7778 6497
7837 6497
7885 6497
8040 6497
8087 6497
8147 6497
8242 6497
8302 6497
8397 6497
8504 6497
8575 6497
8647 6497
8718 6497
8814 6497
8968 6497
9028 6497
9087 6497
9147 6497
9195 6497
9302 6497
9361 6497
9409 6497
9480 6497
9528 6497
9599 6497
9623 6497
87 6498
135 6498
194 6498
254 6498
325 6498
385 6498
456 6498
575 6498
849 6498
1182 6498
1218 6498
1385 6498
1552 6498
1599 6498
1659 6498
1766 6498
1825 6498
1933 6498
2075 6498
2206 6498
2266 6498
2409 6498
2559 6498
2647 6498
2718 6498
2813 6498
2920 6498
2956 6498
3027 6498
3075 6498
3170 6498
3265 6498
3321 6498
3381 6498
3440 6498
3539 6498
3646 6498
3718 6498
3825 6498
3873 6498
4027 6498
4087 6498
4158 6498
4349 6498
4396 6498
4682 6498
4920 6498
4956 6498
5003 6498
5301 6498
5634 6498
5813 6498
5861 6498
5932 6498
6039 6498
6087 6498
6146 6498
6230 6498
6396 6498
6444 6498
6539 6498
6599 6498
6849 6498
6909 6498
7171 6498
7242 6498
7421 6498
7552 6498
7623 6498
7742 6498
7921 6498
7956 6498
8076 6498
8123 6498
8195 6498
8385 6498
8421 6498
8683 6498
8742 6498
8802 6498
8861 6498
9111 6498
9171 6498
9230 6498
9266 6498
9337 6498
9504 6498
9563 6498
9695 6498
4 6499
99 6499
385 6499
623 6499
671 6499
694 6499
766 6499
813 6499
909 6499
1099 6499
1159 6499
1218 6499
1302 6499
1456 6499
1540 6499
1694 6499
1813 6499
1885 6499
2051 6499
2135 6499
2218 6499
2409 6499
2444 6499
2516 6499
2563 6499
2599 6499
2694 6499
2730 6499
2956 6499
3027 6499
3123 6499
3242 6499
3281 6499
3385 6499
3420 6499
3492 6499
3670 6499
3694 6499
4325 6499
4551 6499
4646 6499
4730 6499
4813 6499
4908 6499
5230 6499
5289 6499
5408 6499
5456 6499
5503 6499
5591 6499
5682 6499
5777 6499
5861 6499
6408 6499
6634 6499
6675 6499
6734 6499
6837 6499
6921 6499
7016 6499
7159 6499
7659 6499
7802 6499
7861 6499
7968 6499
8087 6499
8159 6499
8206 6499
8290 6499
8385 6499
8575 6499
8623 6499
8671 6499
8814 6499
8861 6499
8909 6499
8956 6499
9111 6499
9349 6499
9409 6499
64 6500
159 6500
218 6500
349 6500
651 6500
1004 6500
1325 6500
1516 6500
1861 6500
1909 6500
1968 6500
2266 6500
2301 6500
2671 6500
2718 6500
2766 6500
2813 6500
2861 6500
2992 6500
3194 6500
3408 6500
3539 6500
3670 6500
3694 6500
4111 6500
4158 6500
4218 6500
4444 6500
4706 6500
4825 6500
5158 6500
5480 6500
5658 6500
5872 6500
6218 6500
6277 6500
6766 6500
7171 6500
7207 6500
7480 6500
7730 6500
8278 6500
8421 6500
9647 6500
16 6501
195 6501
254 6501
337 6501
397 6501
456 6501
504 6501
694 6501
742 6501
802 6501
849 6501
921 6501
1182 6501
1290 6501
1373 6501
1444 6501
1563 6501
1825 6501
1873 6501
1909 6501
2051 6501
2087 6501
2242 6501
2301 6501
2349 6501
2397 6501
2635 6501
2754 6501
2790 6501
2885 6501
2944 6501
2980 6501
3063 6501
3301 6501
3515 6501
3559 6501
3611 6501
3801 6501
3861 6501
3908 6501
4301 6501
4456 6501
4527 6501
4849 6501
5015 6501
5111 6501
5158 6501
5420 6501
5563 6501
5682 6501
5777 6501
5968 6501
6198 6501
6241 6501
6337 6501
6361 6501
6503 6501
6610 6501
6683 6501
6921 6501
6945 6501
7040 6501
7064 6501
7326 6501
7945 6501
8111 6501
8254 6501
8433 6501
8611 6501
8742 6501
8790 6501
8885 6501
8945 6501
9456 6501
9563 6501
9611 6501
9659 6501
9706 6501
159 6502
254 6502
742 6502
790 6502
921 6502
968 6502
1040 6502
1718 6502
1802 6502
1873 6502
1909 6502
2063 6502
2194 6502
2468 6502
2575 6502
2754 6502
2837 6502
2956 6502
3004 6502
3063 6502
3170 6502
3277 6502
3432 6502
3670 6502
3694 6502
3956 6502
4527 6502
4611 6502
4682 6502
4765 6502
5027 6502
5206 6502
5372 6502
5503 6502
5527 6502
5634 6502
6444 6502
6683 6502
7207 6502
7254 6502
7338 6502
7385 6502
7933 6502
8361 6502
8385 6502
8635 6502
8754 6502
8921 6502
8992 6502
9159 6502
9373 6502
9433 6502
230 6503
337 6503
730 6503
837 6503
956 6503
1123 6503
1290 6503
1337 6503
1718 6503
1790 6503
1849 6503
2040 6503
2171 6503
2385 6503
2433 6503
2575 6503
2611 6503
2801 6503
2849 6503
2944 6503
3027 6503
3456 6503
3587 6503
3742 6503
3920 6503
4170 6503
4289 6503
4563 6503
4611 6503
4670 6503
4932 6503
4980 6503
5408 6503
6146 6503
6503 6503
6575 6503
6634 6503
6655 6503
6766 6503
7611 6503
7837 6503
7968 6503
8171 6503
8492 6503
8623 6503
8730 6503
8778 6503
8837 6503
9302 6503
40 6504
349 6504
611 6504
1052 6504
1694 6504
1825 6504
1873 6504
1921 6504
1964 6504
2182 6504
2349 6504
2397 6504
2433 6504
3051 6504
3706 6504
3777 6504
4075 6504
4408 6504
4956 6504
5194 6504
5515 6504
5861 6504
6111 6504
6861 6504
7207 6504
7826 6504
8361 6504
8385 6504
8468 6504
8599 6504
8790 6504
8933 6504
9135 6504
9302 6504
9353 6504
9683 6504
87 6505
444 6505
504 6505
683 6505
909 6505
2171 6505
4670 6505
5742 6505
6158 6505
6241 6505
6527 6505
6885 6505
7349 6505
8445 6505
8564 6505
8956 6505
9254 6505
9575 6505
52 6506
290 6506
492 6506
564 6506
944 6506
1432 6506
1611 6506
2456 6506
3135 6506
3313 6506
3456 6506
4146 6506
4753 6506
5349 6506
6099 6506
6372 6506
6468 6506
6754 6506
8076 6506
9028 6506
9314 6506
9468 6506
1135 6507
1456 6507
2147 6507
2325 6507
2611 6507
5539 6507
6551 6507
6921 6507
266 6508
314 6508
1706 6508
3075 6508
4849 6508
5623 6508
6718 6508
8599 6508
9195 6508
2775 6509
2795 6509
7683 6509
7968 6509
8361 6509
9468 6509
266 6510
1107 6510
7123 6510
9218 6510
2048 6511
619 6512
2048 6512
4730 6512
5027 6512
5099 6512
6707 6512
6968 6512
1107 6513
6695 6513
5349 6514
9000 6525
};
\addlegendentry{\begin{tabular}{@{}l@{}}Samples\\\textit{μ} = 6484.46, \textit{σ} = 8.58\end{tabular}}
\end{axis}
\end{tikzpicture}
\end{document}
